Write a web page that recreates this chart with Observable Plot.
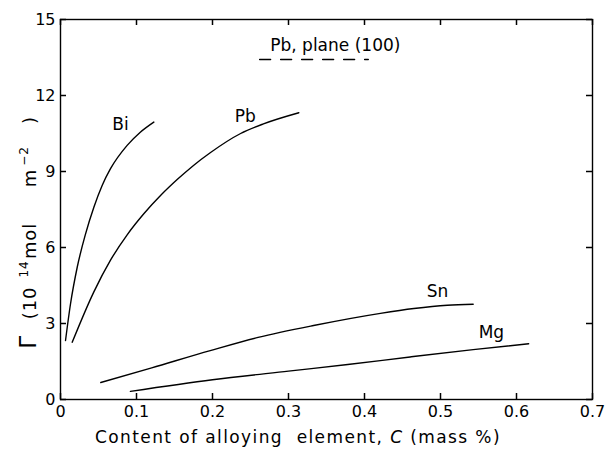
<!DOCTYPE html>
<html>
<head>
<meta charset="utf-8">
<script src="https://cdn.jsdelivr.net/npm/d3@7"></script>
<script src="https://cdn.jsdelivr.net/npm/@observablehq/plot@0.6"></script>
<style>
  html, body { margin: 0; padding: 0; background: #fff; }
  svg { font-family: "DejaVu Sans", sans-serif; }
</style>
</head>
<body>
<div id="chart"></div>
<script>
// ---- data ----
const biX = [0.0066, 0.0132, 0.022, 0.033, 0.0439, 0.0548, 0.0658, 0.0877, 0.105, 0.1228];
const biY = [2.33, 3.78, 5.22, 6.54, 7.59, 8.45, 9.11, 10.03, 10.55, 10.95];
const pbX = [0.0154, 0.0439, 0.0658, 0.0877, 0.1096, 0.1316, 0.1535, 0.175, 0.197, 0.237, 0.267, 0.3136];
const pbY = [2.26, 4.25, 5.5, 6.5, 7.33, 8.05, 8.68, 9.24, 9.74, 10.5, 10.88, 11.32];
const snX = [0.053, 0.120, 0.197, 0.260, 0.333, 0.421, 0.465, 0.509, 0.543];
const snY = [0.67, 1.25, 1.93, 2.45, 2.92, 3.40, 3.59, 3.72, 3.76];
const mgX = [0.092, 0.200, 0.300, 0.378, 0.460, 0.543, 0.616];
const mgY = [0.32, 0.78, 1.12, 1.38, 1.68, 1.97, 2.2];
const curveNames = ["Bi", "Pb", "Sn", "Mg"];
const labelX = [0.079, 0.243, 0.496, 0.567];
const labelY = [10.86, 11.17, 4.26, 2.65];
const xTicks = [0, 0.1, 0.2, 0.3, 0.4, 0.5, 0.6, 0.7];
const yTicks = [0, 3, 6, 9, 12, 15];
const titleText = "Pb, plane (100)";
const titlePos = [0.276, 13.97];
const underlineX = [0.262, 0.405];
const underlineY = 13.42;
const xDomain = [0, 0.7];
const yDomain = [0, 15];

// ---- build tables ----
const series = [[biX, biY], [pbX, pbY], [snX, snY], [mgX, mgY]];
const rows = [];
series.forEach(([xs, ys], i) => xs.forEach((x, j) => rows.push({name: curveNames[i], x, y: ys[j]})));
const labels = curveNames.map((n, i) => ({name: n, x: labelX[i], y: labelY[i]}));

const W = 612, H = 451, ML = 60, MR = 20, MT = 19, MB = 52, TL = 6;
const PW = W - ML - MR, PH = H - MT - MB;
// tick length expressed in data units of each scale
const tx = (xDomain[1] - xDomain[0]) * TL / PW;
const ty = (yDomain[1] - yDomain[0]) * TL / PH;
const tickStyle = {stroke: "#000", strokeWidth: 1.5};

const plot = Plot.plot({
  width: W,
  height: H,
  marginLeft: ML,
  marginRight: MR,
  marginTop: MT,
  marginBottom: MB,
  style: {fontFamily: "DejaVu Sans, sans-serif", fontSize: "16px", color: "#000", background: "#fff"},
  x: {domain: xDomain},
  y: {domain: yDomain},
  marks: [
    Plot.frame({stroke: "#000", strokeWidth: 1.4}),
    // inward ticks on all four sides
    Plot.ruleX(xTicks, {x: d => d, y1: yDomain[0], y2: yDomain[0] + ty, ...tickStyle}),
    Plot.ruleX(xTicks, {x: d => d, y1: yDomain[1] - ty, y2: yDomain[1], ...tickStyle}),
    Plot.ruleY(yTicks, {y: d => d, x1: xDomain[0], x2: xDomain[0] + tx, ...tickStyle}),
    Plot.ruleY(yTicks, {y: d => d, x1: xDomain[1] - tx, x2: xDomain[1], ...tickStyle}),
    Plot.axisX({anchor: "bottom", ticks: xTicks, tickSize: 0, tickPadding: 6, tickFormat: d => d === 0 ? "0" : d3.format(".1f")(d), fontSize: 16, label: null}),
    Plot.axisY({anchor: "left", ticks: yTicks, tickSize: 0, tickPadding: 5, fontSize: 16, label: null}),
    Plot.line(rows, {x: "x", y: "y", z: "name", stroke: "#000", strokeWidth: 1.4, curve: "monotone-x"}),
    Plot.text(labels, {x: "x", y: "y", text: "name", fontSize: 17, fill: "#000"}),
    Plot.text([titleText], {x: titlePos[0], y: titlePos[1], text: d => d, fontSize: 17, fill: "#000", textAnchor: "start"}),
    Plot.line([[underlineX[0], underlineY], [underlineX[1], underlineY]], {x: d => d[0], y: d => d[1], stroke: "#000", strokeWidth: 1.4, strokeDasharray: "11,10"})
  ]
});

const svg = d3.select(plot);
// y label (rotated), with real superscripts
const yl = svg.append("text")
  .attr("transform", "translate(36,0) rotate(-90)")
  .attr("font-size", 18)
  .attr("letter-spacing", 0.8)
  .attr("fill", "#000");
yl.append("tspan").attr("x", -342).attr("font-size", 23).text("Γ");
yl.append("tspan").attr("x", -303).text("(10");
yl.append("tspan").attr("x", -269).attr("dy", -8).attr("font-size", 12).text("14");
yl.append("tspan").attr("x", -241).attr("dy", 8).text("mol");
yl.append("tspan").attr("x", -178).text("m");
yl.append("tspan").attr("x", -156).attr("dy", -8).attr("font-size", 12).text("\u22122");
yl.append("tspan").attr("x", -120).attr("dy", 8).text(")");
// x label with italic C
const xl = svg.append("text")
  .attr("x", 298).attr("y", 443)
  .attr("text-anchor", "middle")
  .attr("font-size", 17)
  .attr("letter-spacing", 1.4)
  .attr("fill", "#000");
xl.append("tspan").text("Content of alloying  element, ");
xl.append("tspan").attr("font-style", "italic").text("C");
xl.append("tspan").text(" (mass %)");

document.getElementById("chart").appendChild(plot);
</script>
</body>
</html>
